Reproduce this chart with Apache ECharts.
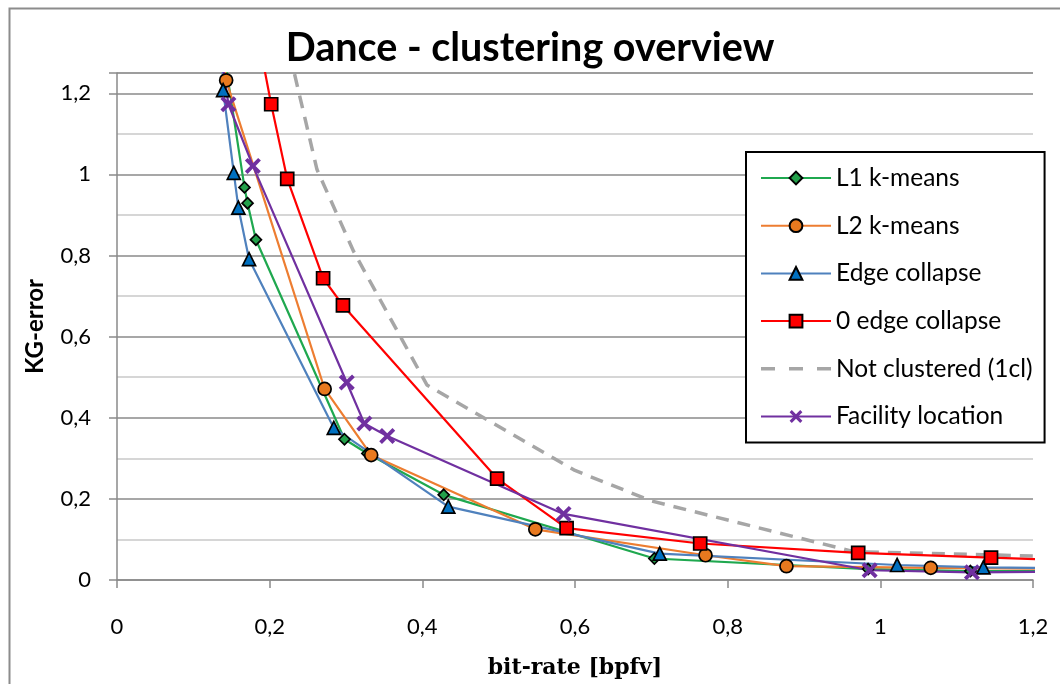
<!DOCTYPE html>
<html>
<head>
<meta charset="utf-8">
<script src="https://cdn.jsdelivr.net/npm/echarts@6/dist/echarts.min.js"></script>
<style>
html,body{margin:0;padding:0;background:#fff;}
#chart{width:1060px;height:684px;}
</style>
</head>
<body>
<div id="chart"></div>
<script>
// ---- data ----
const seriesNames = ['L1 k-means', 'L2 k-means', 'Edge collapse', '0 edge collapse', 'Not clustered (1cl)', 'Facility location'];

const l1X = [0.140, 0.167, 0.171, 0.182, 0.298, 0.328, 0.428, 0.704, 0.984, 1.118, 1.26];
const l1Y = [1.30, 0.968, 0.929, 0.839, 0.347, 0.312, 0.210, 0.053, 0.027, 0.022, 0.022];

const l2X = [0.139, 0.143, 0.272, 0.333, 0.548, 0.771, 0.877, 1.066, 1.26];
const l2Y = [1.30, 1.232, 0.471, 0.308, 0.125, 0.061, 0.034, 0.030, 0.027];

const ecX = [0.138, 0.139, 0.153, 0.159, 0.173, 0.284, 0.434, 0.711, 1.022, 1.135, 1.26];
const ecY = [1.30, 1.208, 1.004, 0.918, 0.791, 0.375, 0.181, 0.065, 0.037, 0.031, 0.029];

const zeX = [0.187, 0.202, 0.223, 0.270, 0.296, 0.498, 0.589, 0.764, 0.971, 1.145, 1.30];
const zeY = [1.32, 1.173, 0.989, 0.744, 0.677, 0.250, 0.128, 0.090, 0.067, 0.055, 0.046];

const ncX = [0.226, 0.262, 0.310, 0.406, 0.600, 0.700, 0.965, 1.25];
const ncY = [1.30, 1.012, 0.810, 0.481, 0.270, 0.195, 0.070, 0.057];

const flX = [0.136, 0.146, 0.178, 0.301, 0.324, 0.354, 0.585, 0.986, 1.120, 1.26];
const flY = [1.30, 1.173, 1.021, 0.487, 0.386, 0.355, 0.163, 0.024, 0.019, 0.021];

const xTicks = [0, 0.2, 0.4, 0.6, 0.8, 1, 1.2];
const xTickLabels = ['0', '0,2', '0,4', '0,6', '0,8', '1', '1,2'];
const yTicks = [0, 0.2, 0.4, 0.6, 0.8, 1, 1.2];
const yTickLabels = ['0', '0,2', '0,4', '0,6', '0,8', '1', '1,2'];

const titleText = 'Dance - clustering overview';
const xName = 'bit-rate [bpfv]';
const yName = 'KG-error';

// ---- helpers ----
function pairs(xs, ys) { return xs.map((x, i) => [x, ys[i]]); }
function lookup(ticks, labels) {
  return function (v) {
    const i = ticks.findIndex(t => Math.abs(t - v) < 1e-6);
    return i >= 0 ? labels[i] : '';
  };
}
const FONT = 'Lato, "Open Sans", sans-serif';
const AXIS_GRAY = '#8a8a8a';
const MINOR_GRAY = '#c8c8c8';
const xMark = 'path://M0,1.7 L1.7,0 L5,3.3 L8.3,0 L10,1.7 L6.7,5 L10,8.3 L8.3,10 L5,6.7 L1.7,10 L0,8.3 L3.3,5 Z';
const dashIcon = 'path://M0,0h14v3.5h-14z M28,0h14v3.5h-14z M56,0h14v3.5h-14z';

function lineSeries(name, xs, ys, lineColor, fillColor, symbol, size, border) {
  return {
    name: name,
    type: 'line',
    data: pairs(xs, ys),
    clip: true,
    symbol: symbol,
    symbolSize: size,
    showSymbol: true,
    lineStyle: { color: lineColor, width: 2.2 },
    itemStyle: { color: fillColor, borderColor: '#000', borderWidth: border },
    emphasis: { disabled: true },
    animation: false,
    z: 3
  };
}

const chart = echarts.init(document.getElementById('chart'), null, { renderer: 'canvas' });

const option = {
  animation: false,
  backgroundColor: '#fff',
  graphic: [{
    type: 'rect', left: 7, top: 6, silent: true, z: -10,
    shape: { x: 0, y: 0, width: 1090, height: 700 },
    style: { fill: 'none', stroke: '#8c8c8c', lineWidth: 2 }
  }],
  title: {
    text: titleText,
    left: 'center',
    top: 23,
    textStyle: { fontFamily: FONT, fontWeight: 'bold', fontSize: 39.5, color: '#000' }
  },
  grid: { left: 117, right: 27, top: 73, bottom: 101, containLabel: false },
  xAxis: {
    type: 'value',
    min: 0, max: 1.2, interval: 0.2,
    name: xName,
    nameLocation: 'middle',
    nameGap: 77,
    nameTextStyle: { fontFamily: '"DejaVu Serif", "Liberation Serif", serif', fontWeight: 'bold', fontSize: 22, color: '#000' },
    axisLine: { show: true, lineStyle: { color: AXIS_GRAY, width: 1.5 } },
    axisTick: { show: true, inside: false, length: 8, lineStyle: { color: AXIS_GRAY, width: 1.5 } },
    axisLabel: { formatter: lookup(xTicks, xTickLabels), margin: 36, fontFamily: FONT, fontSize: 22, color: '#000' },
    splitLine: { show: false }
  },
  yAxis: [{
    type: 'value',
    min: 0, max: 1.25, interval: 0.2,
    name: yName,
    nameLocation: 'middle',
    nameGap: 70,
    nameRotate: 90,
    nameTextStyle: { fontFamily: FONT, fontWeight: 'bold', fontSize: 24, color: '#000' },
    axisLine: { show: true, lineStyle: { color: AXIS_GRAY, width: 1.5 } },
    axisTick: { show: true, inside: false, length: 8, lineStyle: { color: AXIS_GRAY, width: 1.5 } },
    axisLabel: { formatter: lookup(yTicks, yTickLabels), margin: 26, fontFamily: FONT, fontSize: 22, color: '#000' },
    splitLine: { show: true, lineStyle: { color: AXIS_GRAY, width: 1.5 } },
    z: 1
  }, {
    type: 'value',
    position: 'left',
    min: 0, max: 1.25, interval: 0.1,
    axisLine: { show: false },
    axisTick: { show: false },
    axisLabel: { show: false },
    splitLine: { show: true, lineStyle: { color: ['rgba(0,0,0,0)', MINOR_GRAY], width: 1.5 } },
    z: 0
  }],
  legend: {
    orient: 'vertical',
    left: 746,
    top: 152,
    padding: [13, 12, 13, 14],
    itemGap: 21.7,
    itemWidth: 70,
    itemHeight: 16,
    backgroundColor: '#fff',
    borderColor: '#000',
    borderWidth: 2,
    borderRadius: 0,
    textStyle: { fontFamily: FONT, fontSize: 24.5, lineHeight: 26, color: '#000' },
    data: [
      { name: seriesNames[0] },
      { name: seriesNames[1] },
      { name: seriesNames[2] },
      { name: seriesNames[3] },
      { name: seriesNames[4], icon: dashIcon },
      { name: seriesNames[5] }
    ]
  },
  series: [
    lineSeries(seriesNames[0], l1X, l1Y, '#1fa84f', '#23a04a', 'diamond', 11, 1.7),
    lineSeries(seriesNames[1], l2X, l2Y, '#ed7d31', '#e8791f', 'circle', 13, 1.7),
    lineSeries(seriesNames[2], ecX, ecY, '#4f81bd', '#0070c0', 'triangle', 13, 1.7),
    lineSeries(seriesNames[3], zeX, zeY, '#ff0000', '#ff0000', 'rect', 13, 1.7),
    {
      name: seriesNames[4],
      type: 'line',
      data: pairs(ncX, ncY),
      clip: true,
      symbol: 'none',
      lineStyle: { color: '#a6a6a6', width: 3.5, type: [13, 9] },
      itemStyle: { color: '#a6a6a6' },
      emphasis: { disabled: true },
      z: 2
    },
    lineSeries(seriesNames[5], flX, flY, '#7030a0', '#7030a0', xMark, 16, 0)
  ]
};

chart.setOption(option);
</script>
</body>
</html>
